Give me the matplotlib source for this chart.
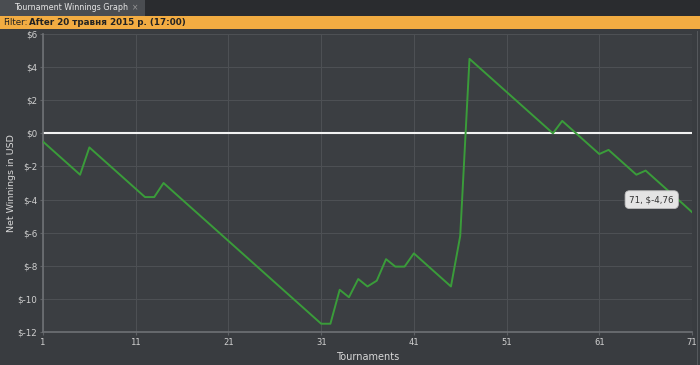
import matplotlib
matplotlib.use("Agg")
import matplotlib.pyplot as plt
from matplotlib.patches import Rectangle

# tournament number and cumulative net winnings (USD)
tournaments = list(range(1, 72))
winnings = [
    -0.5, -1.0, -1.5, -2.0, -2.5, -0.85, -1.35, -1.85, -2.35, -2.85,
    -3.35, -3.85, -3.85, -3.0, -3.5, -4.0, -4.5, -5.0, -5.5, -6.0,
    -6.5, -7.0, -7.5, -8.0, -8.5, -9.0, -9.5, -10.0, -10.5, -11.0,
    -11.5, -11.5, -9.45, -9.9, -8.8, -9.25, -8.9, -7.6, -8.05, -8.05,
    -7.25, -7.75, -8.25, -8.75, -9.25, -6.2, 4.5, 4.0, 3.5, 3.0,
    2.5, 2.0, 1.5, 1.0, 0.5, 0.0, 0.75, 0.25, -0.25, -0.75,
    -1.25, -1.0, -1.5, -2.0, -2.5, -2.25, -2.75, -3.25, -3.75, -4.25,
    -4.76,
]
x_ticks = [1, 11, 21, 31, 41, 51, 61, 71]
y_ticks = [-12, -10, -8, -6, -4, -2, 0, 2, 4, 6]
y_labels = ["$-12", "$-10", "$-8", "$-6", "$-4", "$-2", "$0", "$2", "$4", "$6"]

W, H = 700, 365
bg = "#393c40"
fig = plt.figure(figsize=(W / 100, H / 100), dpi=100, facecolor=bg)

# window chrome: tab strip and filter bar
fig.patches.append(Rectangle((0, (H - 16) / H), 1, 16 / H, transform=fig.transFigure,
                             facecolor="#2a2c2f", edgecolor="none"))
fig.patches.append(Rectangle((0, (H - 16) / H), 145 / W, 16 / H, transform=fig.transFigure,
                             facecolor="#4a4d51", edgecolor="none"))
fig.patches.append(Rectangle((0, (H - 29) / H), 1, 13 / H, transform=fig.transFigure,
                             facecolor="#f2ac42", edgecolor="none"))
fig.text(14 / W, 1 - 8 / H, "Tournament Winnings Graph", color="#e6e6e6",
         fontsize=5.8, va="center", ha="left")
fig.text(132 / W, 1 - 8 / H, "×", color="#9a9a9a", fontsize=5.5, va="center", ha="left")
fig.text(3 / W, 1 - 22.5 / H, "Filter:", color="#222222", fontsize=6.3, va="center", ha="left")
fig.text(29 / W, 1 - 22.5 / H, "After 20 травня 2015 р. (17:00)", color="#222222",
         fontsize=6.3, va="center", ha="left", fontweight="bold")

ax = fig.add_axes([43 / W, 33 / H, 649 / W, 298 / H])
ax.set_facecolor("#3b3e42")
ax.plot(tournaments, winnings, color="#3a9c3a", lw=1.4, zorder=3)
ax.axhline(0, color="#f2f2f2", lw=1.5, zorder=2)

ax.set_xlim(1, 71)
ax.set_ylim(-12, 6)
ax.set_xticks(x_ticks)
ax.set_yticks(y_ticks)
ax.set_yticklabels(y_labels)
ax.grid(True, color="#4d5054", lw=0.8)
ax.tick_params(axis="both", colors="#5e6165", labelcolor="#d0d0d0", labelsize=6.3,
               length=2, pad=2)
for lbl in ax.get_xticklabels():
    lbl.set_family("DejaVu Sans Mono")
for side in ["top", "right"]:
    ax.spines[side].set_visible(False)
for side in ["left", "bottom"]:
    ax.spines[side].set_color("#6e7175")
    ax.spines[side].set_linewidth(1.2)

ax.set_xlabel("Tournaments", color="#d8d8d8", fontsize=7, labelpad=4)
ax.set_ylabel("Net Winnings in USD", color="#d8d8d8", fontsize=6.8)
ax.yaxis.set_label_coords(-27 / 649, 0.5)

# tooltip on last point
ax.annotate("71, $-4,76", xy=(tournaments[-1], winnings[-1]), xytext=(-29, 9),
            textcoords="offset points", ha="center", va="center", fontsize=6.3,
            color="#333333",
            bbox=dict(boxstyle="round,pad=0.5", fc="#e4e4e4", ec="#bdbdbd", lw=0.6))

# right frame edge of the panel
fig.patches.append(Rectangle((697 / W, 0), 1 / W, (H - 31) / H, transform=fig.transFigure,
                             facecolor="#55585c", edgecolor="none"))

fig.savefig("out.png", dpi=100, facecolor=bg)
